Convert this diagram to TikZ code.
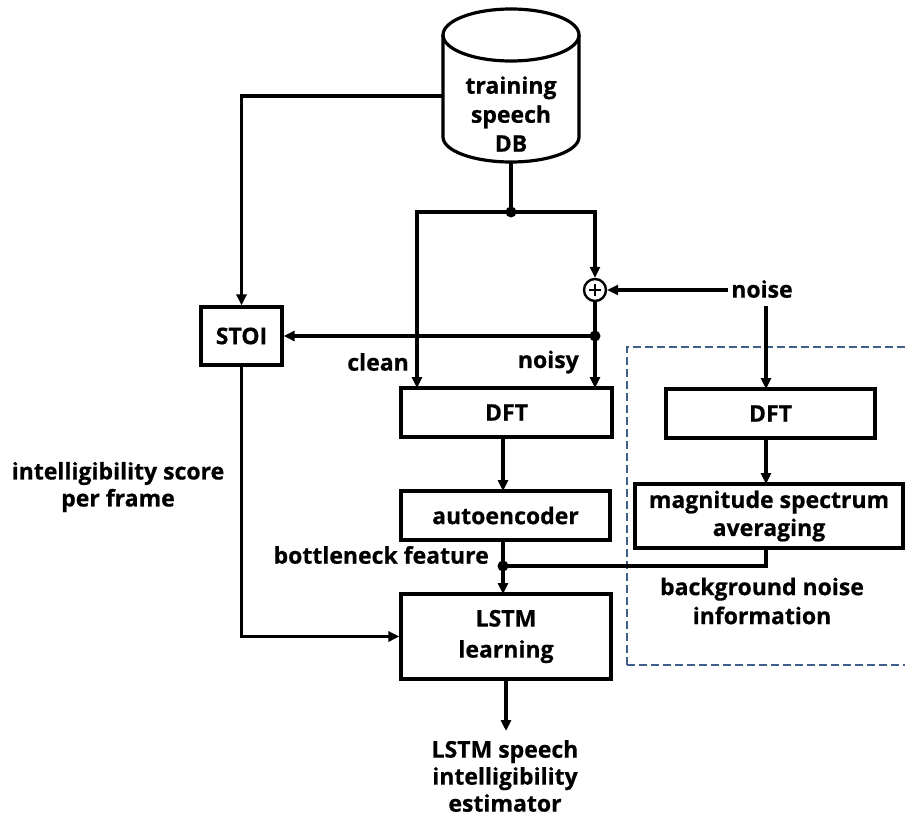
\documentclass[tikz,border=0pt]{standalone}
\usepackage{fontspec}
\setmainfont{Open Sans}[BoldFeatures={FakeBold=0.6}]
\usetikzlibrary{arrows.meta,calc}
\definecolor{dashblue}{HTML}{3E5F8E}
\tikzset{
  wire/.style={line width=3.2pt, black},
  arr/.style={wire, -{Triangle[length=11pt,width=10pt]}},
  blk/.style={draw, line width=3.2pt, rectangle, inner sep=0pt, font=\fontsize{23}{28}\selectfont\bfseries},
  lbl/.style={font=\fontsize{23}{28}\selectfont\bfseries, align=center, inner sep=0pt},
  dot/.style={circle, fill=black, minimum size=11pt, inner sep=0pt},
}
\begin{document}
\begin{tikzpicture}[x=1pt, y=-1pt]
\useasboundingbox (0,0) rectangle (905,816);

% database cylinder
\draw[line width=3.2pt, fill=white] (443,35) -- (443,137) arc[start angle=180, end angle=0, x radius=68, y radius=25] -- (579,35);
\draw[line width=3.2pt] (511,35) ellipse[x radius=68, y radius=26];
\node[lbl, font=\fontsize{23}{29}\selectfont\bfseries] (db) at (511,114) {training\\speech\\DB};
\coordinate (dbleft) at (443,96);
\coordinate (dbbottom) at (511,162);

% blocks
\node[blk, minimum width=81pt, minimum height=58pt] (stoi) at (241.5,336) {STOI};
\node[blk, minimum width=211pt, minimum height=49pt] (dftL) at (506.5,412.5) {DFT};
\node[blk, minimum width=209pt, minimum height=49pt] (ae) at (505.5,515.5) {autoencoder};
\node[blk, minimum width=210pt, minimum height=85pt, align=center, font=\fontsize{23}{31}\selectfont\bfseries] (lstm) at (506,636.5) {LSTM\\learning};
\node[blk, minimum width=209pt, minimum height=49pt] (dftR) at (770.5,413.5) {DFT};
\node[blk, minimum width=268pt, minimum height=64pt, align=center, font=\fontsize{23}{28}\selectfont\bfseries] (mag) at (769,516) {magnitude spectrum\\averaging};

% adder
\node[draw, circle, line width=2.4pt, minimum size=22pt, inner sep=0pt] (sum) at (595,290) {};
\draw[line width=2pt] ($(sum.center)+(-6,0)$) -- ($(sum.center)+(6,0)$);
\draw[line width=2pt] ($(sum.center)+(0,-6)$) -- ($(sum.center)+(0,6)$);

% junction dots
\node[dot] (j1) at (511,212) {};
\node[dot] (j2) at (595,336) {};
\node[dot] (j3) at (503,566) {};

% bend and tap points
\coordinate (cleanTop) at (417,212);
\coordinate (cleanIn) at (417,388);
\coordinate (noisyIn) at (595,388);
\coordinate (noiseTap) at (766,306);
\coordinate (dftOut) at (503,437);
\coordinate (aeIn) at (503,491);
\coordinate (aeOut) at (503,540);
\coordinate (lstmIn) at (503,594);
\coordinate (dftRIn) at (766,389);
\coordinate (dftROut) at (766,438);
\coordinate (magIn) at (766,484);
\coordinate (magOut) at (766,548);
\coordinate (magBend) at (766,566);
\coordinate (outEnd) at (506,731);

% text labels
\node[lbl] (noise) at (762,289) {noise};
\node[lbl, anchor=east] (clean) at (409,362) {clean};
\node[lbl, anchor=east] (noisy) at (579,362) {noisy};
\node[lbl, font=\fontsize{23}{27}\selectfont\bfseries] (score) at (118,487) {intelligibility score\\per frame};
\node[lbl, anchor=east] (bneck) at (489,555) {bottleneck feature};
\node[lbl, font=\fontsize{23}{29}\selectfont\bfseries] (bgn) at (762,601) {background noise\\information};
\node[lbl, font=\fontsize{23}{27}\selectfont\bfseries] (out) at (505,776) {LSTM speech\\intelligibility\\estimator};

% background-noise region
\draw[dashblue, line width=2pt, dash pattern=on 8pt off 4pt] (627,665) -- (627,347) -- (910,347);
\draw[dashblue, line width=2pt, dash pattern=on 8pt off 4pt] (627,665) -- (910,665);

% connectors
\draw[arr] (dbleft) -| (stoi.north);
\draw[wire] (dbbottom) -- (j1.center);
\draw[arr] (j1.center) -- (cleanTop) -- (cleanIn);
\draw[arr] (j1.center) -| (sum.north);
\draw[arr] ($(noise.west)+(-3,1)$) -- (sum.east);
\draw[wire] (sum.south) -- (j2.center);
\draw[arr] (j2.center) -- (noisyIn);
\draw[arr] (j2.center) -- (stoi.east);
\draw[arr] (noiseTap) -- (dftRIn);
\draw[arr] (dftOut) -- (aeIn);
\draw[arr] (dftROut) -- (magIn);
\draw[wire] (aeOut) -- (j3.center);
\draw[arr] (j3.center) -- (lstmIn);
\draw[wire] (magOut) -- (magBend) -- (j3.center);
\draw[arr] (stoi.south) |- (lstm.west);
\draw[arr] (lstm.south) -- (outEnd);
\end{tikzpicture}
\end{document}
